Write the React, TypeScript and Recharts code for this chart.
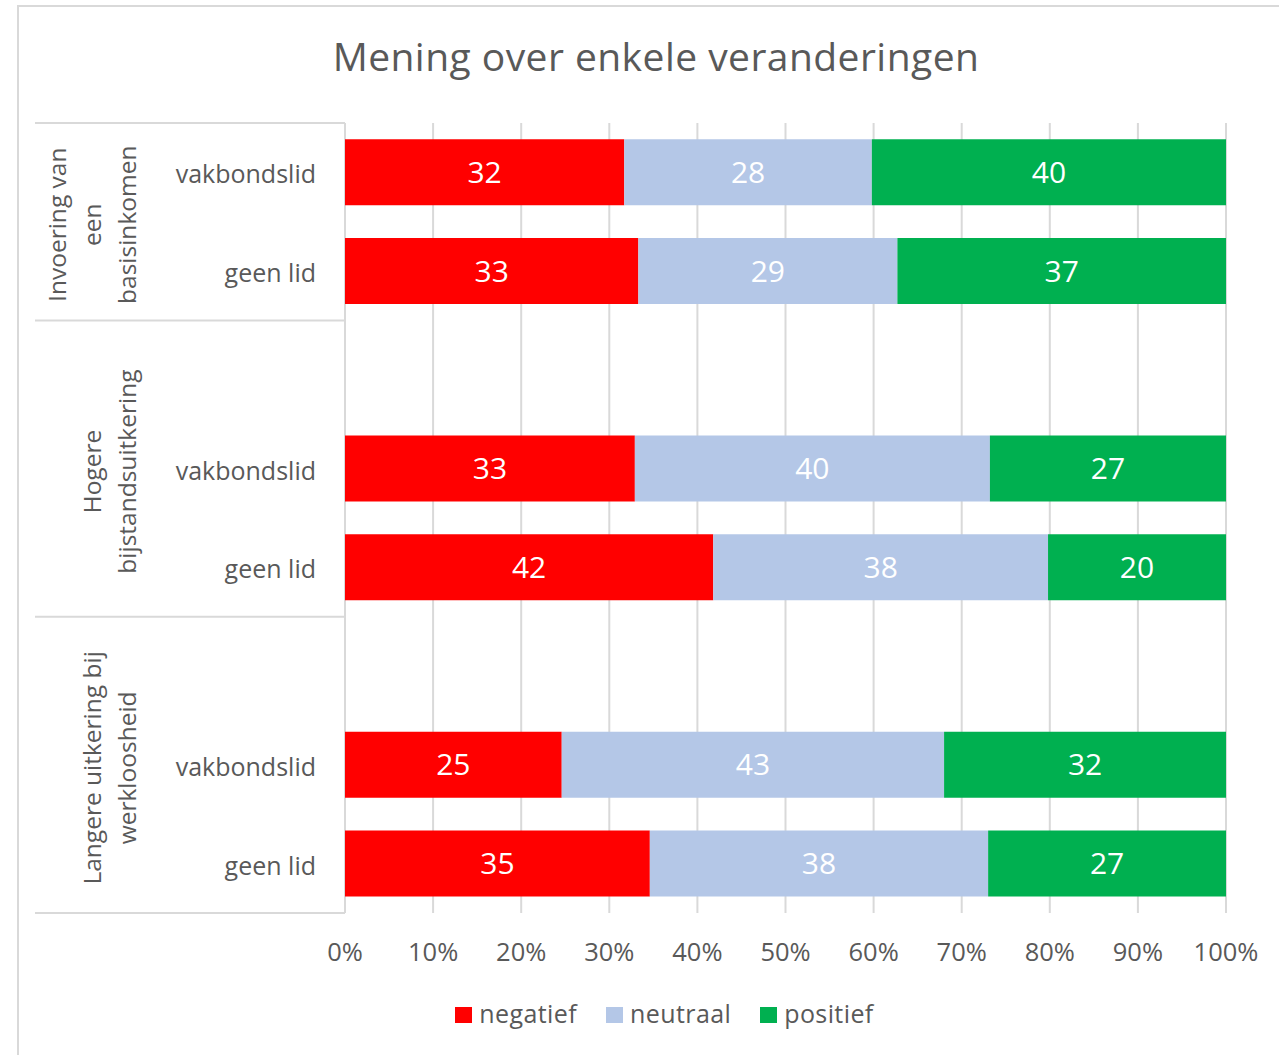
import React from 'react';
import { BarChart, Bar, XAxis, YAxis, CartesianGrid, LabelList, Legend } from 'recharts';

// ---- data ----
const title = 'Mening over enkele veranderingen';
const rowKeys = ['r0', 'r1', 'r2', 'r3', 'r4', 'r5', 'r6', 'r7'];
const subLabels = ['vakbondslid', 'geen lid', '', 'vakbondslid', 'geen lid', '', 'vakbondslid', 'geen lid'];
const rowGroup = [0, 0, 1, 1, 1, 2, 2, 2];
const groupLabels = [
  ['Invoering van', 'een', 'basisinkomen'],
  ['Hogere', 'bijstandsuitkering'],
  ['Langere uitkering bij', 'werkloosheid'],
];
const negatief = [31.7, 33.3, null, 32.9, 41.8, null, 24.6, 34.6];
const neutraal = [28.1, 29.4, null, 40.3, 38.0, null, 43.4, 38.4];
const positief = [40.2, 37.3, null, 26.8, 20.2, null, 32.0, 27.0];
const xTicks = [0, 10, 20, 30, 40, 50, 60, 70, 80, 90, 100];
const seriesNames = ['negatief', 'neutraal', 'positief'];
const seriesColors = ['#FF0000', '#B4C7E7', '#00B050'];

const data = rowKeys.map((k, i) => ({
  key: k,
  negatief: negatief[i],
  neutraal: neutraal[i],
  positief: positief[i],
}));

// ---- layout ----
const W = 1279;
const H = 1055;
const M = { top: 123, right: 53, bottom: 82, left: 35 };
const X_AXIS_H = 60;
const Y_AXIS_W = 310;
const PLOT_H = H - M.top - M.bottom - X_AXIS_H;
const BAND = PLOT_H / rowKeys.length;
const AXIS_X = M.left + Y_AXIS_W;
const GROUP_LAST_LINE_X = 130;
const GROUP_LINE_GAP = 35;
const GRAY = '#595959';
const GRID = '#d9d9d9';

function YTick(props: any) {
  const { x, y, payload } = props;
  const i = rowKeys.indexOf(payload.value);
  const g = rowGroup[i];
  const first = rowGroup.indexOf(g);
  const last = rowGroup.lastIndexOf(g);
  const parts: any[] = [];
  parts.push(
    <text key="sub" x={x} y={y} dy={11} textAnchor="end" fontSize={25} fill={GRAY}>
      {subLabels[i]}
    </text>
  );
  if (i === first) {
    parts.push(
      <line key="sepTop" x1={M.left} x2={AXIS_X} y1={y - BAND / 2} y2={y - BAND / 2} stroke={GRID} strokeWidth={2} />
    );
    const cy = y + ((last - first) * BAND) / 2;
    const lines = groupLabels[g];
    lines.forEach((ln, j) => {
      const lx = GROUP_LAST_LINE_X - (lines.length - 1 - j) * GROUP_LINE_GAP;
      parts.push(
        <text
          key={'g' + j}
          transform={`translate(${lx}, ${cy + 3}) rotate(-90)`}
          textAnchor="middle"
          dy="0.25em"
          fontSize={24.5}
          fill={GRAY}
        >
          {ln}
        </text>
      );
    });
  }
  if (i === rowKeys.length - 1) {
    parts.push(
      <line key="sepBot" x1={M.left} x2={AXIS_X} y1={y + BAND / 2} y2={y + BAND / 2} stroke={GRID} strokeWidth={2} />
    );
  }
  return <g>{parts}</g>;
}

const fmt = (v: any) => (v == null ? '' : String(Math.round(Number(v))));

const renderLegend = () => (
  <div
    style={{
      display: 'flex',
      justifyContent: 'center',
      alignItems: 'center',
      fontSize: 25,
      lineHeight: '25px',
      color: GRAY,
      letterSpacing: 0.4,
      fontFamily: '"Open Sans", sans-serif',
    }}
  >
    {seriesNames.map((n, i) => (
      <div key={n} style={{ display: 'flex', alignItems: 'center', marginRight: i < seriesNames.length - 1 ? 29 : 0 }}>
        <span
          style={{
            display: 'inline-block',
            width: 17,
            height: 16,
            background: seriesColors[i],
            marginRight: 7,
            marginTop: 3,
          }}
        />
        <span>{n}</span>
      </div>
    ))}
  </div>
);

export default function App() {
  return (
    <div
      style={{
        position: 'absolute',
        left: 0,
        top: 0,
        width: W,
        height: H,
        overflow: 'hidden',
        background: '#fff',
        fontFamily: '"Open Sans", sans-serif',
      }}
    >
      <div
        style={{
          position: 'absolute',
          left: 17,
          top: 5,
          width: W + 20,
          height: H + 20,
          borderLeft: `2px solid ${GRID}`,
          borderTop: `2px solid ${GRID}`,
        }}
      />
      <div style={{ position: 'absolute', left: 0, top: 0 }}>
        <BarChart
          width={W}
          height={H}
          data={data}
          layout="vertical"
          margin={M}
          barCategoryGap="16.5%"
        >
          <CartesianGrid horizontal={false} vertical={true} stroke={GRID} strokeWidth={2} />
          <XAxis
            type="number"
            domain={[0, 100]}
            ticks={xTicks}
            interval={0}
            height={X_AXIS_H}
            axisLine={false}
            tickLine={false}
            tickSize={0}
            tickMargin={30}
            tickFormatter={(v: number) => `${v}%`}
            tick={{ fontSize: 25.5, fill: GRAY }}
          />
          <YAxis
            type="category"
            dataKey="key"
            width={Y_AXIS_W}
            interval={0}
            axisLine={false}
            tickLine={false}
            tickSize={0}
            tickMargin={29}
            tick={<YTick />}
          />
          <Legend
            layout="horizontal"
            verticalAlign="middle"
            align="center"
            content={renderLegend}
            wrapperStyle={{ top: 1001, left: 48, width: 1233 }}
          />
          {seriesNames.map((s, i) => (
            <Bar key={s} dataKey={s} name={s} stackId="a" fill={seriesColors[i]} isAnimationActive={false}>
              <LabelList dataKey={s} position="center" fill="#ffffff" fontSize={30} formatter={fmt} />
            </Bar>
          ))}
        </BarChart>
      </div>
      <div
        style={{
          position: 'absolute',
          left: 18,
          top: 36,
          width: 1276,
          textAlign: 'center',
          fontSize: 39,
          lineHeight: '39px',
          letterSpacing: 0.45,
          color: GRAY,
        }}
      >
        {title}
      </div>
    </div>
  );
}
